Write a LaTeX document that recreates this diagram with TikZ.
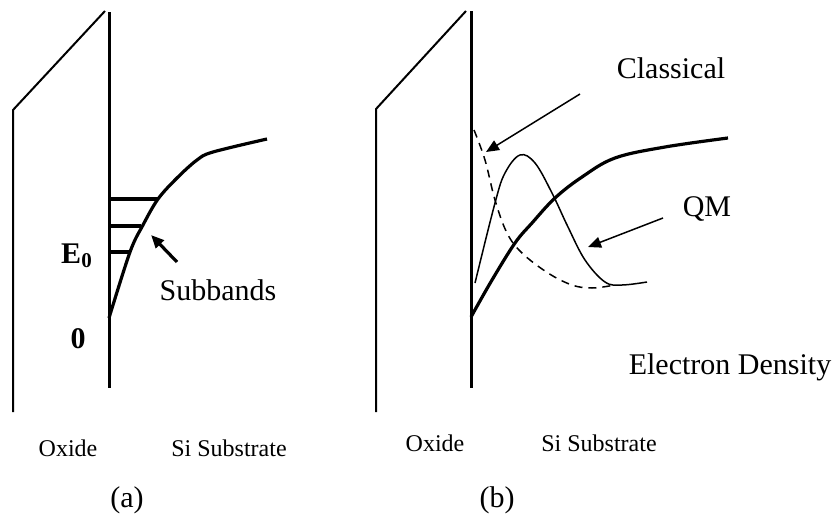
\documentclass[tikz,border=0pt]{standalone}
\usepackage{fontspec}
\setmainfont{Liberation Serif}
\usetikzlibrary{arrows.meta}

\begin{document}
\begin{tikzpicture}[x=0.5pt,y=-0.5pt,>={Triangle[length=6.5pt,width=5.5pt]}]
  \tikzstyle{lbl}=[font=\fontsize{15}{18}\selectfont, inner sep=0pt]
  \tikzstyle{small}=[font=\fontsize{12}{14}\selectfont, inner sep=0pt]
  \tikzstyle{wall}=[line width=1.5pt]
  \tikzstyle{edge}=[line width=1pt]
  \tikzstyle{band}=[line width=1.6pt]
  \tikzstyle{thin}=[line width=0.75pt]
  \useasboundingbox (0,0) rectangle (836,514);

  % (a) band bending with subbands
  \draw[edge] (13,412) -- (13,110) -- (105,11);
  \draw[wall] (109,12) -- (109,388);
  \draw[band] plot[smooth, tension=0.55] coordinates
    {(109,318) (130,252) (143,225) (158,199) (177,178) (197,160) (213,152) (267,139)};
  \draw[band] (109,199) -- (158,199);
  \draw[band] (109,226) -- (141,226);
  \draw[band] (109,252) -- (130,252);

  \node[lbl] (ezero) at (77,256) {\textbf{E}\textsubscript{\textbf{0}}};
  \node[lbl] (zero) at (78,339) {\textbf{0}};
  \node[lbl] (subbands) at (218,290) {Subbands};
  \coordinate (subA) at (177,262);
  \coordinate (subB) at (151,235);
  \draw[band,->] (subA) -- (subB);

  \node[small] (oxa) at (68,448) {Oxide};
  \node[small] (sia) at (229,448) {Si Substrate};
  \node[lbl] (capa) at (127,500) {(a)};

  % (b) classical vs QM electron density
  \draw[edge] (376,412) -- (376,109) -- (466,11);
  \draw[wall] (471,11) -- (471,388);
  \draw[band] plot[smooth, tension=0.6] coordinates
    {(471,317) (492,280) (515,243) (532,223) (555,198) (582,177) (615,158) (665,147) (728,138)};
  \draw[thin] plot[smooth, tension=0.6] coordinates
    {(475,283) (495,203) (505,173) (520,155) (535,163) (552,193) (568,227) (585,260) (605,282) (622,285) (647,282)};
  \draw[thin,dashed,dash pattern=on 4pt off 3pt] plot[smooth, tension=0.6] coordinates
    {(474,130) (485,160) (495,200) (507,233) (522,253) (548,273) (572,285) (592,288) (615,285)};

  \node[lbl] (classical) at (671,68) {Classical};
  \node[lbl] (qm) at (707,209) {QM};
  \node[lbl] (density) at (730,367) {Electron Density};
  \coordinate (clA) at (580,94);
  \coordinate (clB) at (486,152);
  \coordinate (qmA) at (663,218);
  \coordinate (qmB) at (588,247);
  \draw[thin,->] (clA) -- (clB);
  \draw[thin,->] (qmA) -- (qmB);

  \node[small] (oxb) at (435,443) {Oxide};
  \node[small] (sib) at (599,443) {Si Substrate};
  \node[lbl] (capb) at (497,500) {(b)};
\end{tikzpicture}
\end{document}
